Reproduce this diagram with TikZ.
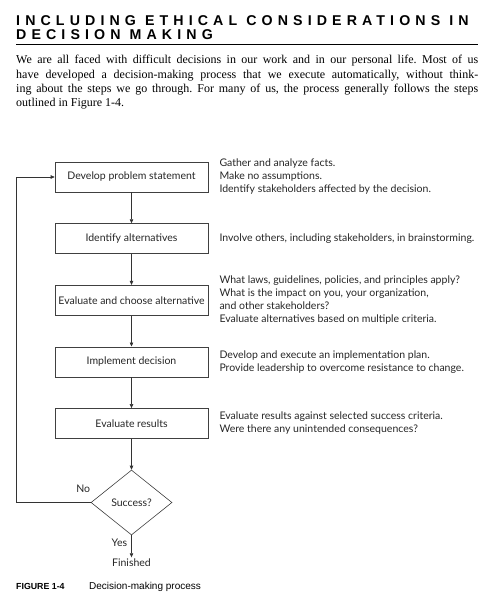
\documentclass[tikz,border=0pt]{standalone}
\usepackage{fontspec}
\usepackage{tikz}
\usetikzlibrary{arrows.meta,positioning,shapes.geometric}
\setmainfont{Liberation Serif}
\newfontfamily\headfont{Liberation Sans}[LetterSpace=36]
\newfontfamily\chartfont{Lato}
\newfontfamily\capfont{Liberation Sans}
\newcommand{\chartsize}{\chartfont\fontsize{10.5}{13}\selectfont}

\begin{document}
\begin{tikzpicture}[x=1pt, y=1pt,
  box/.style={rectangle, draw=black!75, line width=0.6pt,
              minimum width=153pt, minimum height=30pt, inner sep=2pt,
              text=black!85, font=\chartsize},
  decision/.style={diamond, draw=black!75, line width=0.6pt,
                   minimum width=81pt, minimum height=65pt, inner sep=0pt,
                   text=black!85, font=\chartsize},
  note/.style={align=left, inner sep=0pt, text=black!85, font=\chartsize},
  lbl/.style={inner sep=1pt, text=black!85, font=\chartsize},
  arr/.style={-{Triangle[length=4pt,width=3.5pt]}, line width=0.6pt, draw=black!80},
  node distance=31pt
]
\useasboundingbox (0,0) rectangle (499,-598);

% heading and intro
\node[anchor=base west, inner sep=0pt, font=\headfont\bfseries\fontsize{14.2}{16}\selectfont]
  (title1) at (16,-25) {INCLUDING ETHICAL CONSIDERATIONS IN};
\node[anchor=base west, inner sep=0pt, font=\headfont\bfseries\fontsize{14.2}{16}\selectfont]
  (title2) at (16,-39.5) {DECISION MAKING};
\draw[line width=1.8pt] (16,-44.5) -- (478,-44.5);

\node[anchor=north west, text width=462pt, align=justify, inner sep=0pt,
      font=\frenchspacing\fontsize{12}{14.4}\selectfont] (intro) at (16,-55)
  {We are all faced with difficult decisions in our work and in our personal life. Most of us\linebreak
   have developed a decision-making process that we execute automatically, without think-\linebreak
   ing about the steps we go through. For many of us, the process generally follows the steps\linebreak
   outlined in Figure 1-4.};

% flowchart
\node[box] (problem) at (131.5,-177) {Develop problem statement};
\node[box, below=of problem] (alternatives) {Identify alternatives};
\node[box, below=of alternatives] (choose) {Evaluate and choose alternative};
\node[box, below=of choose] (implement) {Implement decision};
\node[box, below=of implement] (results) {Evaluate results};
\node[decision, below=of results] (success) {Success?};
\node[lbl, below=22pt of success] (finished) {Finished};
\coordinate (loopx) at (16,0);

\node[note, right=11pt of problem] (factsnote)
  {Gather and analyze facts.\\
   Make no assumptions.\\
   Identify stakeholders affected by the decision.};
\node[note, right=11pt of alternatives] (involvenote)
  {Involve others, including stakeholders, in brainstorming.};
\node[note, right=11pt of choose] (lawsnote)
  {What laws, guidelines, policies, and principles apply?\\
   What is the impact on you, your organization,\\
   and other stakeholders?\\
   Evaluate alternatives based on multiple criteria.};
\node[note, right=11pt of implement] (plannote)
  {Develop and execute an implementation plan.\\
   Provide leadership to overcome resistance to change.};
\node[note, right=11pt of results] (criterianote)
  {Evaluate results against selected success criteria.\\
   Were there any unintended consequences?};

\draw[arr] (problem) -- (alternatives);
\draw[arr] (alternatives) -- (choose);
\draw[arr] (choose) -- (implement);
\draw[arr] (implement) -- (results);
\draw[arr] (results) -- (success);
\draw[arr] (success) -- node[lbl, pos=0.35, left=3pt] (yes) {Yes} (finished);
\draw[arr] (success.west) -- node[lbl, pos=0.1, above=9pt] (no) {No}
  (success.west -| loopx) |- (problem.west);

% caption
\node[anchor=base west, inner sep=0pt, font=\capfont\bfseries\fontsize{8.8}{10}\selectfont]
  (figlabel) at (16,-589) {FIGURE 1-4};
\node[anchor=base west, inner sep=0pt, font=\capfont\fontsize{10}{11}\selectfont]
  (figcaption) at (89,-589) {Decision-making process};
\end{tikzpicture}
\end{document}
